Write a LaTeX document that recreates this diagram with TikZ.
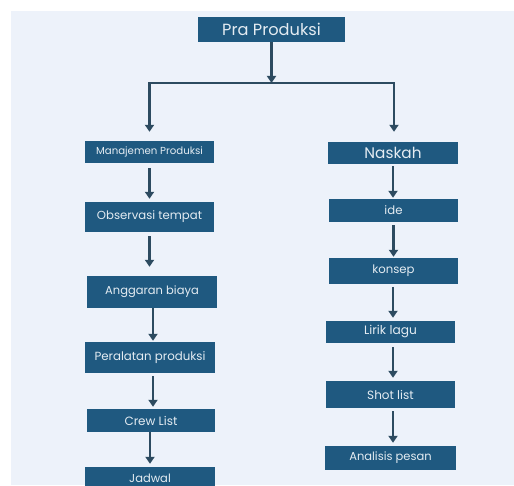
\documentclass[tikz,border=0pt]{standalone}
\usepackage{fontspec}
\setmainfont{Poppins}
\usetikzlibrary{arrows.meta}
\definecolor{bgc}{HTML}{EDF2FA}
\definecolor{boxc}{HTML}{1F5980}
\definecolor{arrc}{HTML}{2D4B60}
\definecolor{txtc}{HTML}{E4ECF2}
\newcommand{\fsz}[1]{\fontsize{#1}{#1}\selectfont}
\tikzset{
  stepbox/.style={draw=none, fill=boxc, text=txtc, inner sep=0pt},
  conn/.style={draw=arrc, line width=2.2pt, -{Triangle[width=9pt,length=7pt]}},
  plain/.style={draw=arrc, line width=2.2pt}
}
\begin{document}
\begin{tikzpicture}[x=1pt,y=-1pt]
\useasboundingbox (0,0) rectangle (514,486);
\clip (0,0) rectangle (514,485);
\fill[bgc] (11,11) rectangle (514,485);
% top
\node[stepbox, minimum width=147pt, minimum height=25pt] (pra) at (271.5,29.5) {\fsz{16.2}Pra Produksi};
% left column
\node[stepbox, minimum width=129pt, minimum height=22pt] (man) at (149.5,152) {\fsz{10.2}Manajemen Produksi};
\node[stepbox, minimum width=129pt, minimum height=30pt] (obs) at (149.5,217) {\fsz{11.7}Observasi tempat};
\node[stepbox, minimum width=130pt, minimum height=32pt] (ang) at (152,292) {\fsz{11.5}Anggaran biaya};
\node[stepbox, minimum width=130pt, minimum height=31pt] (per) at (150,357.5) {\fsz{11.8}Peralatan produksi};
\node[stepbox, minimum width=128pt, minimum height=23pt] (crew) at (151,420.5) {\fsz{12}Crew List};
\node[stepbox, minimum width=130pt, minimum height=22pt] (jad) at (150,478) {\fsz{11.5}Jadwal};
% right column
\node[stepbox, minimum width=130pt, minimum height=22pt] (nask) at (393,153) {\fsz{15.3}Naskah};
\node[stepbox, minimum width=129pt, minimum height=23pt] (ide) at (393.5,210.5) {\fsz{11.7}ide};
\node[stepbox, minimum width=129pt, minimum height=26pt] (kon) at (393.5,271) {\fsz{11.7}konsep};
\node[stepbox, minimum width=129pt, minimum height=22pt] (lir) at (390.5,332) {\fsz{12.2}Lirik lagu};
\node[stepbox, minimum width=129pt, minimum height=27pt] (shot) at (390.5,394.5) {\fsz{12}Shot list};
\node[stepbox, minimum width=131pt, minimum height=24pt] (ana) at (390.5,458) {\fsz{11.5}Analisis pesan};
% split
\coordinate (split) at (271.5,83);
\coordinate (lc) at (149.5,83);
\coordinate (rc) at (394,83);
\draw[conn] (pra.south) -- (split);
\draw[plain, line cap=rect] (lc) -- (rc);
\draw[conn, shorten >=9pt] (lc) -- (lc |- man.north);
\draw[conn, shorten >=10pt] (rc) -- (rc |- nask.north);
% left arrows
\draw[conn, shorten <=5pt, shorten >=3pt] (man.south) -- (obs.north);
\draw[conn, shorten <=4pt, shorten >=9pt] (obs.south) -- (obs.south |- ang.north);
\coordinate (a3) at (153,308);
\draw[conn, shorten >=1pt] (a3) -- (a3 |- per.north);
\coordinate (a4) at (153,373);
\draw[conn, shorten <=3pt, shorten >=2pt] (a4) -- (a4 |- crew.north);
\draw[conn, shorten <=1pt, shorten >=3pt] (crew.south) -- (crew.south -| jad.north) -- (jad.north);
% right arrows
\draw[conn, shorten <=2pt, shorten >=1pt] (nask.south) -- (nask.south |- ide.north);
\draw[conn, shorten <=3pt, shorten >=1pt] (ide.south) -- (kon.north);
\coordinate (b3) at (393,284);
\draw[conn, shorten <=3pt, shorten >=3pt] (b3) -- (b3 |- lir.north);
\coordinate (b4) at (393,343);
\draw[conn, shorten <=4pt, shorten >=3pt] (b4) -- (b4 |- shot.north);
\coordinate (b5) at (393,408);
\draw[conn, shorten <=3pt, shorten >=3pt] (b5) -- (b5 |- ana.north);
\end{tikzpicture}
\end{document}
